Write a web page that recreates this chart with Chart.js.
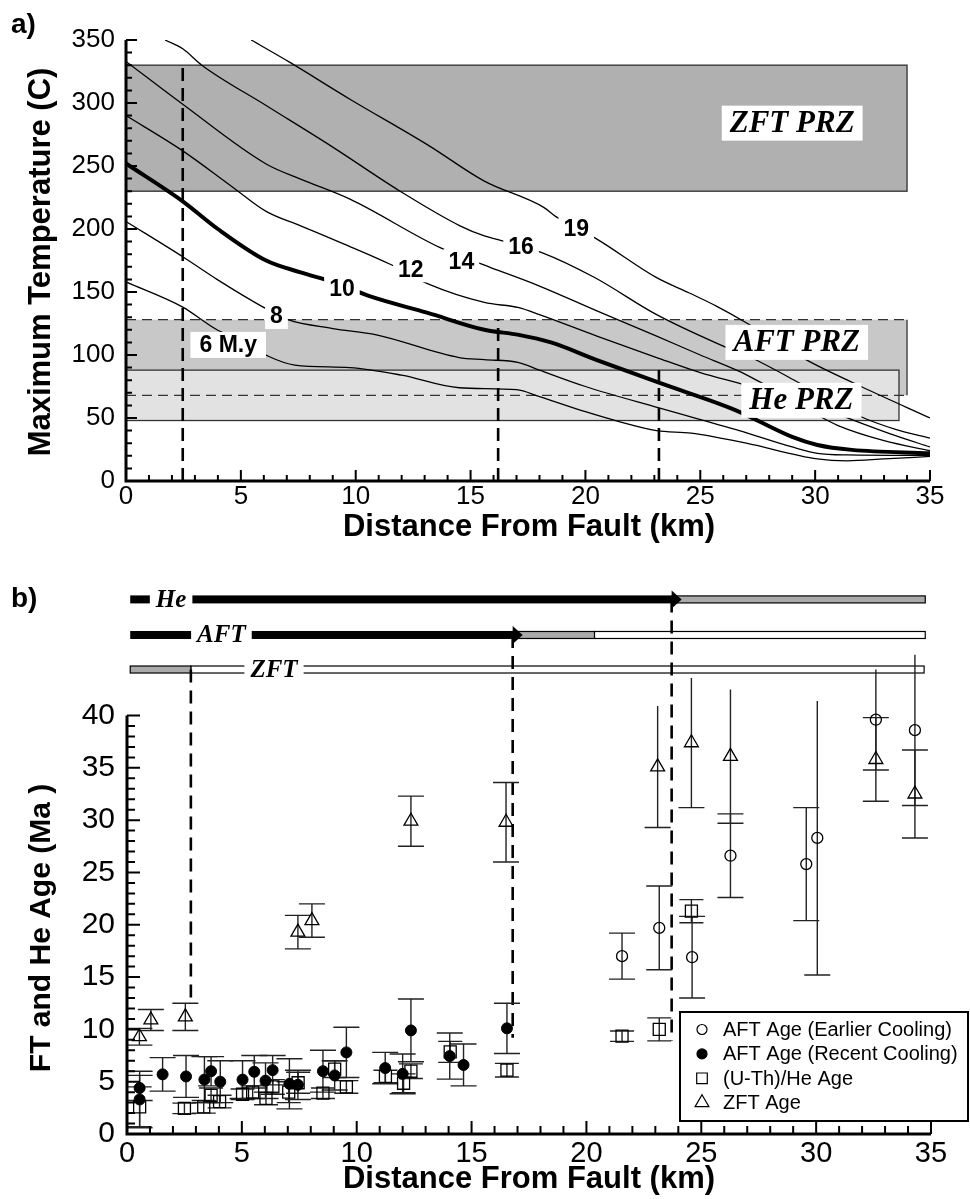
<!DOCTYPE html>
<html>
<head>
<meta charset="utf-8">
<script src="https://cdn.jsdelivr.net/npm/chart.js@4.4.0/dist/chart.umd.min.js"></script>
<style>
  body { margin: 0; background: #fff; }
  #wrap { position: relative; width: 970px; height: 1199px; }
  #chartA { position: absolute; left: 0; top: 0; }
  #chartB { position: absolute; left: 0; top: 560px; }
</style>
</head>
<body>
<div id="wrap">
  <canvas id="chartA" width="970" height="560"></canvas>
  <canvas id="chartB" width="970" height="639"></canvas>
</div>
<script>
const SANS = "'Liberation Sans', Arial, Helvetica, sans-serif";
const SERIF = "'Liberation Serif', 'Times New Roman', serif";

// ---------- panel a : maximum temperature contours (km, deg C) ----------
const dist6 = [0, 2.47, 3.96, 5.0, 6.2, 7.35, 9.74, 12.0, 14.5, 17.0, 18.0, 20.0, 21.5, 23.1, 24.6, 27.0, 30.1, 31.4, 33.0, 35.0];
const temp6 = [158, 138, 120, 112, 99, 92, 90, 84, 74, 72.5, 67, 55, 47, 40, 38, 30, 17.5, 16, 17.5, 19.5];
const dist8 = [0, 2.47, 3.96, 5.97, 7.05, 9.0, 10.9, 14.5, 15.6, 17.1, 18.0, 20.0, 23.2, 26.7, 29.0, 30.1, 31.4, 35.0];
const temp8 = [206, 178, 160, 138, 128, 121, 116, 98, 96.3, 94, 88, 75, 58, 40, 27, 22, 20.7, 20.3];
const dist10 = [0, 2.47, 4.0, 6.1, 7.6, 9.0, 10.6, 13.1, 15.6, 17.1, 18.5, 20.5, 23.2, 26.5, 29.0, 30.1, 31.6, 35.0];
const temp10 = [252, 222, 200, 175, 165.6, 158, 146.7, 133.6, 120, 116, 110, 96, 78, 56.5, 35, 28.6, 24.7, 22];
const dist12 = [0, 2.47, 4.66, 6.1, 7.6, 9.5, 11.5, 13.2, 15.6, 17.1, 18.0, 20.5, 23.1, 25.0, 27.5, 29.5, 31.0, 33.0, 35.0];
const temp12 = [290, 262, 233, 214, 202.5, 188, 172, 156, 141.7, 137.6, 132, 115, 98, 86, 73, 58, 44, 32, 24];
const dist14 = [0, 2.47, 6.1, 7.6, 9.75, 13.7, 15.85, 18.0, 20.5, 23.1, 25.0, 26.7, 28.0, 30.0, 32.0, 33.5, 35.0];
const temp14 = [333, 299, 251.6, 239.6, 223.7, 185, 169.6, 154.7, 135, 115, 100, 87, 75, 60, 46, 36, 27];
const dist16 = [1.7, 2.47, 3.3, 6.1, 9.0, 11.93, 14.54, 15.6, 16.2, 18.1, 20.4, 23.1, 26.0, 27.2, 29.3, 32.0, 33.5, 35.0];
const temp16 = [350, 343, 330, 298, 265, 230, 202.5, 194.5, 191.5, 181.3, 161.5, 132, 107, 98, 78, 51, 41, 34];
const dist19 = [5.45, 7.1, 9.75, 13.2, 15.6, 18.2, 18.7, 20.5, 23.1, 24.5, 25.7, 27.0, 29.6, 32.0, 35.0];
const temp19 = [350, 332.6, 303, 266, 238, 217, 210, 192, 161.4, 149.4, 138.8, 125.6, 96.3, 75, 50];

const contourText = ['6 M.y', '8', '10', '12', '14', '16', '19'];
const contourTextDist = [4.45, 6.55, 9.4, 12.4, 14.6, 17.2, 19.6];
const contourTextTemp = [108, 131, 153, 168, 174, 186, 200];

const przNames = ['ZFT PRZ', 'AFT PRZ', 'He PRZ'];
const przBottom = [230, 68, 48];
const przTop = [330, 128, 88];
const przEnd = [34.0, 34.0, 33.65];
const przTextDist = [29.0, 29.2, 29.4];
const przTextTemp = [284, 110, 64];

const dashADist = [2.47, 16.2, 23.2];
const dashATop = [330, 128, 88];

const distTicks = [0, 5, 10, 15, 20, 25, 30, 35];
const tempTicks = [0, 50, 100, 150, 200, 250, 300, 350];
const ageTicks = [0, 5, 10, 15, 20, 25, 30, 35, 40];

// ---------- panel b : ages (km, Ma, +/- Ma) ----------
const distEarly = [21.55, 23.17, 24.6, 26.27, 29.57, 30.05, 32.6, 34.3];
const ageEarly = [17.0, 19.7, 16.9, 26.6, 25.8, 28.3, 39.6, 38.6];
const errEarly = [2.2, 4.0, 3.9, 4.0, 5.4, 13.1, 4.8, 7.2];

const distRecent = [0.55, 0.55, 1.55, 2.57, 3.37, 3.66, 4.06, 5.03, 5.54, 6.03, 6.34, 7.07, 7.44, 8.53, 9.04, 9.55, 11.24, 12.0, 12.36, 14.05, 14.65, 16.54];
const ageRecent = [4.4, 3.3, 5.7, 5.5, 5.2, 6.0, 5.0, 5.2, 5.95, 5.1, 6.1, 4.8, 4.7, 6.0, 5.6, 7.8, 6.3, 5.75, 9.9, 7.45, 6.6, 10.1];
const errRecent = [1.2, 2.7, 1.6, 2.0, 2.2, 1.4, 2.0, 1.8, 1.55, 1.7, 1.4, 2.4, 1.4, 2.0, 1.4, 2.4, 1.5, 1.9, 3.0, 2.2, 2.0, 2.4];

const distHe = [0.55, 2.5, 3.34, 3.66, 4.03, 5.03, 5.47, 6.05, 6.35, 7.04, 7.45, 8.53, 9.04, 9.55, 11.25, 12.04, 12.36, 14.07, 16.54, 21.55, 23.17, 24.57];
const ageHe = [2.6, 2.45, 2.6, 3.7, 3.1, 3.8, 4.0, 3.4, 4.5, 4.0, 4.9, 3.9, 6.2, 4.5, 5.5, 4.85, 6.0, 7.85, 6.1, 9.35, 10.0, 21.3];
const errHe = [1.9, 0.5, 0.6, 0.7, 0.6, 0.5, 0.6, 0.6, 0.7, 1.0, 1.0, 0.5, 0.8, 0.6, 0.6, 0.9, 0.7, 1.0, 0.65, 0.5, 1.1, 1.1];

const distZft = [0.54, 1.04, 2.54, 7.44, 8.05, 12.36, 16.5, 23.1, 24.57, 26.27, 32.6, 34.3];
const ageZft = [9.3, 10.9, 11.2, 19.3, 20.4, 29.9, 29.8, 35.1, 37.4, 36.1, 35.8, 32.5];
const errZft = [0.8, 1.0, 1.3, 1.6, 1.6, 2.4, 3.8, 5.8, 6.2, 6.4, 4.0, 4.2];

// reset / partial / unreset bars above panel b (km)
const rowNames = ['He', 'AFT', 'ZFT'];
const rowStart = 0.14;
const rowBlackEnd = [23.71, 16.79, 0];
const rowGrayEnd = [34.75, 20.35, 2.78];
const rowWhiteEnd = [34.75, 34.75, 34.7];
const rowTextDist = [1.92, 4.11, 6.4];

const dashBDist = [23.71, 16.79, 2.78];
const dashBLow = [8.9, 9.2, 12.9];

// layout only: vertical level of the bar rows on the age scale
const rowLevel = [51.1, 47.7, 44.4];

const pts = (xs, ys) => xs.map((v, i) => ({ x: v, y: ys[i] }));

function drawAxes(ctx, x, y, xMax, yMax, yMajor, yMinor, lenMajor, lenMinor) {
  const x0 = x.getPixelForValue(0), x1 = x.getPixelForValue(xMax);
  const y0 = y.getPixelForValue(0), y1 = y.getPixelForValue(yMax);
  ctx.save();
  ctx.strokeStyle = '#000';
  ctx.lineWidth = 2;
  ctx.beginPath();
  for (let v = 0; v <= yMax + 1e-6; v += yMinor) {
    const py = y.getPixelForValue(v);
    const len = Math.abs(v / yMajor - Math.round(v / yMajor)) < 1e-6 ? lenMajor : lenMinor;
    ctx.moveTo(x0, py); ctx.lineTo(x0 + len, py);
  }
  for (let v = 0; v <= xMax + 1e-6; v += 1) {
    const px = x.getPixelForValue(v);
    const len = v % 5 === 0 ? lenMajor : lenMinor;
    ctx.moveTo(px, y0); ctx.lineTo(px, y0 - len);
  }
  ctx.stroke();
  ctx.lineWidth = 3;
  ctx.beginPath();
  ctx.moveTo(x0, y1); ctx.lineTo(x0, y0); ctx.lineTo(x1, y0);
  ctx.stroke();
  ctx.restore();
}

function labelBox(ctx, text, px, py, font, padX, h) {
  ctx.font = font;
  const w = ctx.measureText(text).width + 2 * padX;
  ctx.fillStyle = '#fff';
  ctx.fillRect(px - w / 2, py - h / 2, w, h);
  ctx.fillStyle = '#000';
  ctx.textAlign = 'center';
  ctx.textBaseline = 'middle';
  ctx.fillText(text, px, py + 1);
}

function vTitle(ctx, text, px, py, font) {
  ctx.save();
  ctx.translate(px, py);
  ctx.rotate(-Math.PI / 2);
  ctx.font = font;
  ctx.fillStyle = '#000';
  ctx.textAlign = 'center';
  ctx.textBaseline = 'middle';
  ctx.fillText(text, 0, 0);
  ctx.restore();
}

const panelA = {
  id: 'panelA',
  beforeDatasetsDraw(chart) {
    const { ctx, scales: { x, y } } = chart;
    const box = (i) => {
      const l = x.getPixelForValue(0), r = x.getPixelForValue(przEnd[i]);
      const t = y.getPixelForValue(przTop[i]), b = y.getPixelForValue(przBottom[i]);
      return { l, r, t, b, w: r - l, h: b - t };
    };
    ctx.save();
    const z = box(0);
    ctx.fillStyle = '#b0b0b0';
    ctx.fillRect(z.l, z.t, z.w, z.h);
    ctx.strokeStyle = '#444'; ctx.lineWidth = 1.5;
    ctx.strokeRect(z.l, z.t, z.w, z.h);
    const a = box(1);
    ctx.fillStyle = '#c8c8c8';
    ctx.fillRect(a.l, a.t, a.w, a.h);
    const h = box(2);
    ctx.fillStyle = '#e2e2e2';
    ctx.fillRect(h.l, h.t, h.w, h.h);
    ctx.strokeStyle = '#333'; ctx.lineWidth = 1.3;
    ctx.strokeRect(h.l, h.t, h.w, h.h);
    ctx.beginPath();
    ctx.moveTo(a.r, a.t); ctx.lineTo(a.r, a.b);
    ctx.stroke();
    ctx.setLineDash([10, 6]);
    ctx.beginPath();
    ctx.moveTo(a.l, a.t); ctx.lineTo(a.r, a.t);
    ctx.moveTo(a.l, a.b); ctx.lineTo(a.r, a.b);
    ctx.stroke();
    ctx.restore();
  },
  afterDatasetsDraw(chart) {
    const { ctx, scales: { x, y } } = chart;
    ctx.save();
    ctx.strokeStyle = '#000'; ctx.lineWidth = 2.6;
    ctx.setLineDash([13, 7]);
    dashADist.forEach((d, i) => {
      const px = x.getPixelForValue(d);
      ctx.beginPath();
      ctx.moveTo(px, y.getPixelForValue(0));
      ctx.lineTo(px, y.getPixelForValue(dashATop[i]));
      ctx.stroke();
    });
    ctx.setLineDash([]);
    contourText.forEach((t, i) => {
      labelBox(ctx, t, x.getPixelForValue(contourTextDist[i]), y.getPixelForValue(contourTextTemp[i]),
        'bold 23px ' + SANS, t.length > 2 ? 9 : 5, 26);
    });
    przNames.forEach((t, i) => {
      labelBox(ctx, t, x.getPixelForValue(przTextDist[i]), y.getPixelForValue(przTextTemp[i]),
        'italic bold 31px ' + SERIF, 8, 35);
    });
    drawAxes(ctx, x, y, 35, 350, 50, 10, 11, 6);
    vTitle(ctx, 'Maximum Temperature (C)', 41, 262, 'bold 31px ' + SANS);
    ctx.font = 'bold 31px ' + SANS;
    ctx.fillStyle = '#000';
    ctx.textAlign = 'center'; ctx.textBaseline = 'middle';
    ctx.fillText('Distance From Fault (km)', 529, 527);
    ctx.font = 'bold 28px ' + SANS;
    ctx.textAlign = 'left'; ctx.textBaseline = 'alphabetic';
    ctx.fillText('a)', 11, 33);
    ctx.restore();
  }
};

const contourSets = [
  [dist6, temp6, 1.3], [dist8, temp8, 1.3], [dist10, temp10, 4],
  [dist12, temp12, 1.3], [dist14, temp14, 1.3], [dist16, temp16, 1.3], [dist19, temp19, 1.3]
].map(([d, t, w]) => ({
  type: 'line', data: pts(d, t), showLine: true, borderColor: '#000', borderWidth: w,
  pointRadius: 0, fill: false, cubicInterpolationMode: 'monotone'
}));

new Chart(document.getElementById('chartA'), {
  type: 'scatter',
  data: { datasets: contourSets },
  options: {
    responsive: false, animation: false, devicePixelRatio: 1,
    layout: { padding: { top: 40, right: 40, left: 0, bottom: 0 } },
    plugins: { legend: { display: false }, tooltip: { enabled: false } },
    scales: {
      x: {
        type: 'linear', min: 0, max: 35,
        afterBuildTicks: (s) => { s.ticks = distTicks.map(v => ({ value: v })); },
        afterFit: (s) => { s.height = 79; },
        grid: { display: false, drawTicks: false }, border: { display: false },
        ticks: { color: '#000', font: { family: SANS, size: 26 }, padding: 0, maxRotation: 0 }
      },
      y: {
        type: 'linear', min: 0, max: 350,
        afterBuildTicks: (s) => { s.ticks = tempTicks.map(v => ({ value: v })); },
        afterFit: (s) => { s.width = 126; },
        grid: { display: false, drawTicks: false }, border: { display: false },
        ticks: { color: '#000', font: { family: SANS, size: 26 }, padding: 11 }
      }
    }
  },
  plugins: [panelA]
});

// ---------- panel b ----------
const panelB = {
  id: 'panelB',
  beforeDatasetsDraw(chart) {
    const { ctx, scales: { x, y } } = chart;
    ctx.save();
    // reset rows
    rowNames.forEach((name, i) => {
      const cy = y.getPixelForValue(rowLevel[i]);
      const x0 = x.getPixelForValue(rowStart);
      const xb = rowBlackEnd[i] > rowStart ? x.getPixelForValue(rowBlackEnd[i]) : x0;
      const xg = x.getPixelForValue(rowGrayEnd[i]);
      const xw = x.getPixelForValue(rowWhiteEnd[i]);
      ctx.lineWidth = 1.2; ctx.strokeStyle = '#000';
      if (xw > xg + 1) {
        ctx.fillStyle = '#fff';
        ctx.fillRect(xg, cy - 3.5, xw - xg, 7);
        ctx.strokeRect(xg, cy - 3.5, xw - xg, 7);
      }
      ctx.fillStyle = '#aaa';
      ctx.fillRect(xb, cy - 3.5, xg - xb, 7);
      ctx.strokeRect(xb, cy - 3.5, xg - xb, 7);
      if (xb > x0) {
        ctx.fillStyle = '#000';
        ctx.fillRect(x0, cy - 4, xb - x0, 8);
        ctx.beginPath();
        ctx.moveTo(xb, cy - 9); ctx.lineTo(xb + 10, cy); ctx.lineTo(xb, cy + 9);
        ctx.closePath(); ctx.fill();
      }
      labelBox(ctx, name, x.getPixelForValue(rowTextDist[i]), cy, 'italic bold 25px ' + SERIF, 6, 22);
    });
    // dashed lines from the rows
    ctx.strokeStyle = '#000'; ctx.lineWidth = 2.6;
    ctx.setLineDash([13, 8]);
    dashBDist.forEach((d, i) => {
      const px = x.getPixelForValue(d);
      ctx.beginPath();
      ctx.moveTo(px, y.getPixelForValue(rowLevel[i]));
      ctx.lineTo(px, y.getPixelForValue(dashBLow[i]));
      ctx.stroke();
    });
    ctx.setLineDash([]);
    // error bars
    ctx.strokeStyle = '#222'; ctx.lineWidth = 1.4;
    chart.data.datasets.forEach((ds) => {
      const cw = ds.capHalf;
      ds.data.forEach((p, i) => {
        const e = ds.errors[i];
        const px = x.getPixelForValue(p.x);
        const top = y.getPixelForValue(p.y + e), bot = y.getPixelForValue(p.y - e);
        ctx.beginPath();
        ctx.moveTo(px, top); ctx.lineTo(px, bot);
        if (p.y + e <= 40) { ctx.moveTo(px - cw, top); ctx.lineTo(px + cw, top); }
        ctx.moveTo(px - cw, bot); ctx.lineTo(px + cw, bot);
        ctx.stroke();
      });
    });
    ctx.restore();
  },
  afterDatasetsDraw(chart) {
    const { ctx, scales: { x, y } } = chart;
    ctx.save();
    drawAxes(ctx, x, y, 35, 40, 5, 1, 13, 8);
    // legend
    ctx.fillStyle = '#fff';
    ctx.fillRect(680, 452, 288, 109);
    ctx.strokeStyle = '#000'; ctx.lineWidth = 2;
    ctx.strokeRect(680, 452, 288, 109);
    chart.data.datasets.forEach((ds, i) => {
      const ly = 469.5 + i * 24.4;
      ctx.fillStyle = ds.backgroundColor;
      ctx.strokeStyle = '#000'; ctx.lineWidth = 1.2;
      Chart.helpers.drawPoint(ctx, {
        pointStyle: ds.pointStyle, radius: ds.legendRadius, rotation: 0, borderWidth: 1.2
      }, 702, ly);
      ctx.fillStyle = '#000';
      ctx.font = '20px ' + SANS;
      ctx.textAlign = 'left'; ctx.textBaseline = 'middle';
      ctx.fillText(ds.label, 723, ly + 1);
    });
    vTitle(ctx, 'FT and He Age (Ma )', 42, 368, 'bold 30px ' + SANS);
    ctx.font = 'bold 31px ' + SANS;
    ctx.fillStyle = '#000';
    ctx.textAlign = 'center'; ctx.textBaseline = 'middle';
    ctx.fillText('Distance From Fault (km)', 529, 619);
    ctx.font = 'bold 28px ' + SANS;
    ctx.textAlign = 'left'; ctx.textBaseline = 'alphabetic';
    ctx.fillText('b)', 11, 47);
    ctx.restore();
  }
};

const clear = 'rgba(0,0,0,0)';
new Chart(document.getElementById('chartB'), {
  type: 'scatter',
  data: {
    datasets: [
      { label: 'AFT Age (Earlier Cooling)', data: pts(distEarly, ageEarly), errors: errEarly, capHalf: 13,
        pointStyle: 'circle', radius: 5.5, legendRadius: 5, backgroundColor: clear, borderColor: '#000', borderWidth: 1.3 },
      { label: 'AFT Age (Recent Cooling)', data: pts(distRecent, ageRecent), errors: errRecent, capHalf: 13,
        pointStyle: 'circle', radius: 5.5, legendRadius: 5, backgroundColor: '#000', borderColor: '#000', borderWidth: 1 },
      { label: '(U-Th)/He Age', data: pts(distHe, ageHe), errors: errHe, capHalf: 12,
        pointStyle: 'rect', radius: 8.5, legendRadius: 7.5, backgroundColor: clear, borderColor: '#000', borderWidth: 1.3 },
      { label: 'ZFT Age', data: pts(distZft, ageZft), errors: errZft, capHalf: 13,
        pointStyle: 'triangle', radius: 8, legendRadius: 8, backgroundColor: clear, borderColor: '#000', borderWidth: 1.3 }
    ]
  },
  options: {
    responsive: false, animation: false, devicePixelRatio: 1,
    layout: { padding: { top: 23, right: 39, left: 0, bottom: 0 } },
    plugins: { legend: { display: false }, tooltip: { enabled: false } },
    scales: {
      x: {
        type: 'linear', min: 0, max: 35,
        afterBuildTicks: (s) => { s.ticks = distTicks.map(v => ({ value: v })); },
        afterFit: (s) => { s.height = 65; },
        grid: { display: false, drawTicks: false }, border: { display: false },
        ticks: { color: '#000', font: { family: SANS, size: 29 }, padding: 3, maxRotation: 0 }
      },
      y: {
        type: 'linear', min: 0, max: 52,
        afterBuildTicks: (s) => { s.ticks = ageTicks.map(v => ({ value: v })); },
        afterFit: (s) => { s.width = 127; },
        grid: { display: false, drawTicks: false }, border: { display: false },
        ticks: { color: '#000', font: { family: SANS, size: 30 }, padding: 12 }
      }
    }
  },
  plugins: [panelB]
});
</script>
</body>
</html>
